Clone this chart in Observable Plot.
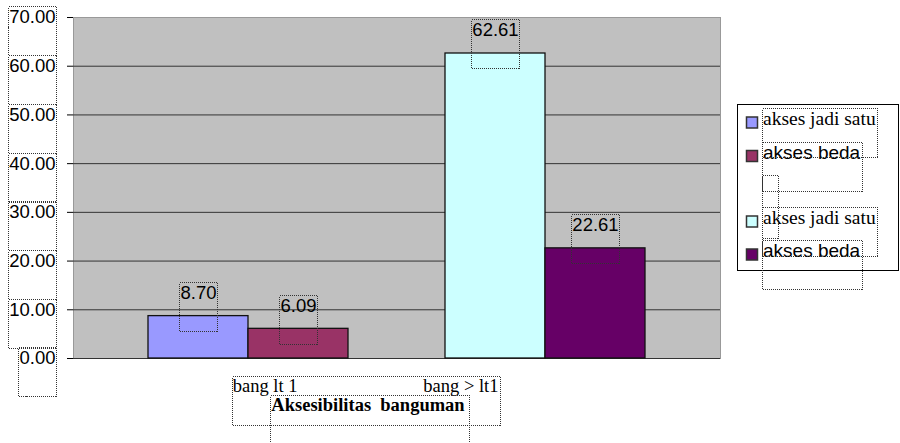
<!DOCTYPE html>
<html><head><meta charset="utf-8">
<script src="https://cdn.jsdelivr.net/npm/d3@7"></script>
<script src="https://cdn.jsdelivr.net/npm/@observablehq/plot@0.6"></script>
<style>html,body{margin:0;padding:0;background:#fff;} svg{display:block}</style>
</head><body><div id="chart"></div>
<script>
// ---- data ----
const categories = ["bang lt 1", "bang > lt1"];
const seriesNames = ["akses jadi satu", "akses beda"];
const aksesJadiSatu = [8.70, 62.61];
const aksesBeda = [6.09, 22.61];
const yTicks = [0, 10, 20, 30, 40, 50, 60, 70];
const xTitle = "Aksesibilitas  banguman";

// ---- styles ----
const barColors = ["#9999FF", "#993366", "#CCFFFF", "#660066"];
const sans = "'Liberation Sans', Arial, sans-serif";
const serif = "'Liberation Serif', 'Times New Roman', serif";

const rows = [];
categories.forEach((c, i) => {
  rows.push({category: c, series: seriesNames[0], s: 0, value: aksesJadiSatu[i], key: c + " – " + seriesNames[0]});
  rows.push({category: c, series: seriesNames[1], s: 1, value: aksesBeda[i], key: c + " – " + seriesNames[1]});
});
const s0 = rows.filter(d => d.s === 0);
const s1 = rows.filter(d => d.s === 1);

const plot = Plot.plot({
  width: 900, height: 443,
  marginLeft: 73, marginRight: 180, marginTop: 17, marginBottom: 85,
  style: {fontFamily: sans, fontSize: "18.5px", color: "#000", background: "#fff", overflow: "visible"},
  x: {domain: categories, paddingInner: 0.66387, paddingOuter: 0.41933, axis: null},
  y: {domain: [0, 70], ticks: yTicks, tickFormat: d => d.toFixed(2), tickSize: 6, tickPadding: 12, line: true, label: null},
  color: {domain: rows.map(d => d.key), range: barColors},
  marks: [
    Plot.frame({fill: "#C0C0C0", stroke: "#999"}),
    Plot.ruleY(yTicks.filter(v => v > 0 && v < 70), {stroke: "#333"}),
    Plot.ruleY([0], {stroke: "#333"}),
    Plot.barY(s0, {x: "category", y: "value", fill: "key", stroke: "#111", strokeWidth: 1.3, dx: -50}),
    Plot.barY(s1, {x: "category", y: "value", fill: "key", stroke: "#111", strokeWidth: 1.3, dx: 50}),
    Plot.text(s0, {x: "category", y: "value", text: d => d.value.toFixed(2), dx: -50, dy: -17, lineAnchor: "bottom", fill: "#000"}),
    Plot.text(s1, {x: "category", y: "value", text: d => d.value.toFixed(2), dx: 50, dy: -17, lineAnchor: "bottom", fill: "#000"}),
    Plot.text([categories[0]], {x: d => d, text: d => d, frameAnchor: "bottom", textAnchor: "start", dx: -15.75, dy: 33.7, lineAnchor: "bottom", fontFamily: serif, fontSize: 18.5, fill: "#000"}),
    Plot.text([categories[1]], {x: d => d, text: d => d, frameAnchor: "bottom", textAnchor: "end", dx: -47, dy: 33.7, lineAnchor: "bottom", fontFamily: serif, fontSize: 18.5, fill: "#000"}),
    Plot.text([xTitle], {text: d => d, frameAnchor: "bottom", dx: -29, dy: 52, lineAnchor: "bottom", fontFamily: serif, fontSize: 18.5, fontWeight: "bold", fill: "#000"})
  ]
});
document.getElementById("chart").append(plot);

const svg = d3.select(plot);
const svgRect = () => plot.getBoundingClientRect();
function bboxOf(el) {
  const r = el.getBoundingClientRect(), s = svgRect();
  return {x: r.left - s.left, y: r.top - s.top, width: r.width, height: r.height};
}

// collect plot texts before adding the legend
const plotTexts = [...plot.querySelectorAll("text")];
plotTexts.forEach(t => { if (t.textContent === xTitle) t.style.whiteSpace = "pre"; });

// legend
const color = plot.scale("color");
const legendY = [123, 156.5, 222, 255];
const lg = svg.append("g").attr("aria-label", "legend");
lg.append("rect").attr("x", 737.5).attr("y", 104.5).attr("width", 161).attr("height", 166)
  .attr("fill", "#fff").attr("stroke", "#000");
const legendTexts = [];
rows.forEach((d, i) => {
  lg.append("rect").attr("x", 746.5).attr("y", legendY[i] - 6).attr("width", 11).attr("height", 11)
    .attr("fill", color.apply(d.key)).attr("stroke", "#333").attr("stroke-width", 1.5);
  legendTexts.push(lg.append("text").attr("x", 763).attr("y", legendY[i] + 2)
    .attr("text-anchor", "start")
    .attr("font-family", d.s === 0 ? serif : sans).attr("font-size", d.s === 0 ? 19.5 : 19)
    .attr("fill", "#000").text(d.series).node());
});

// dotted text frames (as in the source export)
const boxes = svg.append("g").attr("aria-label", "text-frames");
function frame(bb, extra, h) {
  extra = extra || 0;
  boxes.append("rect")
    .attr("x", Math.round(bb.x - 1) + 0.5).attr("y", Math.round(bb.y) + 0.5)
    .attr("width", Math.round(bb.width + 2 + extra)).attr("height", h || 49)
    .attr("fill", "none").attr("stroke", "#333").attr("stroke-width", 1)
    .attr("stroke-dasharray", "1,1").attr("shape-rendering", "crispEdges");
}
const xLabelBoxes = [];
plotTexts.forEach(t => {
  const bb = bboxOf(t);
  if (categories.includes(t.textContent)) xLabelBoxes.push(bb);
  else if (t.textContent === xTitle) frame(bb, 3);
  else frame(bb);
});
if (xLabelBoxes.length) {
  const x0 = d3.min(xLabelBoxes, b => b.x), x1 = d3.max(xLabelBoxes, b => b.x + b.width), y0 = d3.min(xLabelBoxes, b => b.y);
  frame({x: x0, y: y0, width: x1 - x0});
}
legendTexts.forEach(t => frame(bboxOf(t)));
// empty legend text frame between the two legend groups
{
  const b = bboxOf(legendTexts[1]);
  frame({x: b.x, y: b.y + b.height + 12, width: 14}, 0, 63);
}
</script>
</body></html>
